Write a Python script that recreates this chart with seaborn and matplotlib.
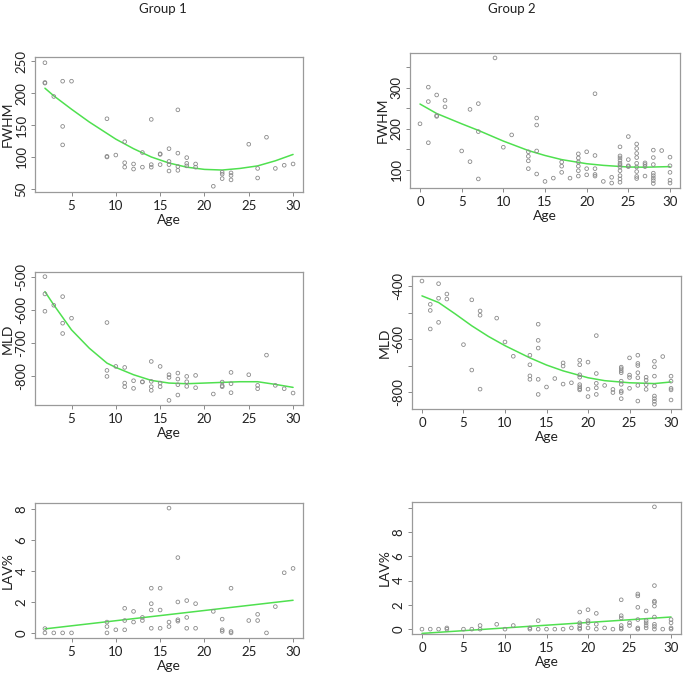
import numpy as np
import pandas as pd
import matplotlib
matplotlib.use("Agg")
import matplotlib.pyplot as plt
import seaborn as sns

# Group 1 - FWHM
g1_fwhm_age = [2, 2, 2, 3, 4, 4, 4, 5, 9, 9, 9, 10, 11, 11, 11, 12, 12, 13, 13,
               14, 14, 14, 15, 15, 15, 16, 16, 16, 16, 17, 17, 17, 17, 18, 18, 18,
               19, 19, 21, 22, 22, 22, 23, 23, 23, 25, 26, 26, 27, 28, 29, 30]
g1_fwhm = [248, 217, 216, 195, 219, 148, 119, 219, 160, 101, 100, 103, 124, 91, 84, 89, 81, 107, 84,
           159, 88, 84, 105, 104, 88, 113, 93, 88, 78, 174, 106, 85, 79, 99, 90, 86,
           89, 84, 54, 76, 73, 66, 75, 71, 64, 120, 82, 67, 131, 82, 87, 89]
g1_fwhm_fit_age = [2, 3, 5, 7, 9, 10, 12, 14, 16, 18, 20, 22, 24, 26, 28, 30]
g1_fwhm_fit = [208, 196, 175, 155, 137, 128, 113, 100, 90.5, 84, 80.5, 79.5, 82, 86, 94, 104]

# Group 2 - FWHM
g2_fwhm_age = [0, 1, 1, 1, 2, 2, 2, 3, 3, 5, 6, 6, 7, 7, 7, 9, 10, 11,
               13, 13, 13, 13, 14, 14, 14, 14, 15, 16, 17, 17, 17, 18,
               19, 19, 19, 19, 19, 19, 20, 20, 20, 21, 21, 21, 21, 21, 22, 23, 23,
               24, 24, 24, 24, 24, 24, 24, 24, 24, 24, 24, 25, 25, 25, 25,
               26, 26, 26, 26, 26, 26, 26, 26, 26, 27, 27, 27, 27,
               28, 28, 28, 28, 28, 28, 28, 28, 29, 30, 30, 30, 30, 30]
g2_fwhm = [212, 301, 266, 166, 282, 232, 230, 269, 253, 146, 247, 120, 261, 193, 78, 372, 155, 185,
           144, 133, 122, 103, 226, 209, 146, 90, 72, 80, 119, 109, 94, 80,
           139, 129, 119, 109, 98, 85, 144, 103, 88, 285, 135, 103, 89, 85, 72, 82, 68,
           156, 134, 129, 123, 116, 112, 107, 98, 86, 78, 70, 181, 125, 110, 108,
           163, 152, 140, 130, 116, 107, 96, 84, 79, 117, 113, 108, 85,
           148, 130, 113, 92, 86, 80, 74, 67, 147, 131, 110, 94, 75, 68]
g2_fwhm_fit_age = [0, 2, 5, 7, 10, 13, 15, 17, 20, 22, 25, 27, 30]
g2_fwhm_fit = [260, 237, 212, 196, 170, 147, 135, 125, 115, 111, 107, 106.5, 108]

# Group 1 - MLD
g1_mld_age = [2, 2, 2, 3, 4, 4, 4, 5, 9, 9, 9, 10, 11, 11, 11, 12, 12, 13, 13,
              14, 14, 14, 14, 15, 15, 15, 16, 16, 16, 17, 17, 17, 17, 18, 18, 18,
              19, 19, 21, 22, 22, 22, 23, 23, 23, 25, 26, 26, 27, 28, 29, 30]
g1_mld = [-500, -552, -604, -586, -560, -640, -671, -625, -638, -782, -800, -770, -773, -820, -831,
          -813, -836, -816, -817, -755, -815, -831, -842, -770, -820, -831, -795, -803, -872,
          -790, -808, -825, -856, -800, -816, -830, -797, -834, -853, -817, -828, -831,
          -788, -822, -849, -795, -827, -837, -736, -827, -837, -850]
g1_mld_fit_age = [2, 3, 5, 7, 9, 10, 12, 14, 16, 18, 20, 22, 24, 26, 28, 30]
g1_mld_fit = [-545, -585, -660, -715, -760, -773, -795, -812, -820, -822, -820, -818, -816, -816, -824, -833]

# Group 2 - MLD
g2_mld_age = [0, 1, 1, 1, 2, 2, 2, 3, 3, 5, 6, 6, 7, 7, 7, 9, 10, 11,
              13, 13, 13, 13, 14, 14, 14, 14, 14, 15, 16, 17, 17, 17, 18,
              19, 19, 19, 19, 19, 19, 19, 19, 20, 20, 20, 21, 21, 21, 21, 21, 22, 23, 23,
              24, 24, 24, 24, 24, 24, 24, 24, 24, 25, 25, 25, 25,
              26, 26, 26, 26, 26, 26, 26, 27, 27, 27, 27,
              28, 28, 28, 28, 28, 28, 28, 28, 29, 30, 30, 30, 30, 30]
g2_mld = [-381, -469, -492, -562, -391, -446, -537, -430, -449, -621, -452, -717, -494, -510, -789,
          -521, -611, -665, -661, -697, -739, -752, -544, -605, -634, -752, -809, -781, -749,
          -690, -702, -770, -765, -680, -697, -735, -744, -772, -780, -787, -792,
          -687, -789, -817, -587, -730, -767, -784, -809, -775, -790, -802,
          -706, -712, -720, -727, -759, -771, -796, -802, -825, -671, -736, -745, -786,
          -661, -692, -700, -727, -746, -775, -834, -744, -755, -772, -790,
          -684, -705, -740, -777, -815, -825, -835, -846, -666, -740, -759, -786, -792, -830]
g2_mld_fit_age = [0, 2, 4, 6, 8, 10, 13, 15, 17, 20, 22, 25, 28, 30]
g2_mld_fit = [-437, -462, -505, -550, -590, -625, -671, -698, -720, -746, -757, -765, -768, -762]

# Group 1 - LAV%
g1_lav_age = [2, 2, 3, 4, 5, 9, 9, 9, 10, 11, 11, 11, 12, 12, 13, 13,
              14, 14, 14, 14, 15, 15, 15, 16, 16, 16, 17, 17, 17, 17, 18, 18, 18,
              19, 19, 21, 22, 22, 22, 23, 23, 23, 25, 26, 26, 27, 28, 29, 30]
g1_lav = [0.28, 0, 0, 0, 0, 0.7, 0.41, 0, 0.2, 1.59, 0.8, 0.2, 1.39, 0.7, 1.0, 0.8,
          2.89, 1.89, 1.48, 0.3, 2.89, 1.48, 0.3, 8.07, 0.7, 0.41, 4.87, 2.0, 0.85, 0.76,
          2.09, 1.0, 0.3, 1.89, 0.3, 1.39, 0.89, 0.2, 0.1, 2.89, 0.09, 0, 0.8, 1.2, 0.8,
          0, 1.7, 3.89, 4.17]
g1_lav_fit_age = [2, 30]
g1_lav_fit = [0.26, 2.11]

# Group 2 - LAV%
g2_lav_age = [0, 1, 2, 3, 3, 5, 6, 7, 7, 9, 10, 11, 13, 13, 14, 14, 15, 16, 17, 18,
              19, 19, 19, 19, 19, 20, 20, 20, 20, 21, 21, 21, 22, 23,
              24, 24, 24, 24, 24, 24, 25, 25, 26, 26, 26, 26, 26, 26,
              27, 27, 27, 27, 27, 28, 28, 28, 28, 28, 28, 28, 28, 28, 29, 30, 30, 30, 30]
g2_lav = [0, 0, 0, 0.1, 0, 0, 0, 0.3, 0, 0.4, 0, 0.3, 0.1, 0, 0.7, 0, 0, 0, 0, 0.1,
          1.41, 0.52, 0.3, 0.1, 0, 1.6, 0.7, 0.52, 0.1, 1.3, 0.4, 0, 0.1, 0,
          2.42, 1.11, 0.92, 0.3, 0.1, 0, 0.52, 0.3, 2.9, 2.74, 1.8, 0.79, 0.1, 0,
          1.5, 0.7, 0.52, 0.3, 0.1, 10.08, 3.59, 2.31, 2.2, 1.9, 1.0, 0.4, 0.22, 0, 0,
          0.79, 0.52, 0.1, 0]
g2_lav_fit_age = [0, 30]
g2_lav_fit = [-0.35, 1.0]

sns.set_theme(style="white")
plt.rcParams["font.family"] = ["Lato", "DejaVu Sans"]
plt.rcParams["axes.unicode_minus"] = False

W, H = 683, 674
fig = plt.figure(figsize=(W / 100, H / 100), dpi=100)


def add_axes(x0, x1, y0, y1):
    return fig.add_axes([x0 / W, 1 - y1 / H, (x1 - x0) / W, (y1 - y0) / H])


panels = [
    # (box px, ages, values, fit ages, fit values, ylabel, xlim, ylim, xticks, yticks, ylabels)
    ((35, 303, 57, 192), g1_fwhm_age, g1_fwhm, g1_fwhm_fit_age, g1_fwhm_fit, "FWHM",
     (0.88, 31.12), (45, 257), [5, 10, 15, 20, 25, 30], [50, 100, 150, 200, 250], None),
    ((410, 680, 53, 188), g2_fwhm_age, g2_fwhm, g2_fwhm_fit_age, g2_fwhm_fit, "FWHM",
     (-1.2, 31.2), (56, 384), [0, 5, 10, 15, 20, 25, 30], [100, 150, 200, 250, 300, 350],
     ["100", "", "200", "", "300", ""]),
    ((35, 303, 272, 405), g1_mld_age, g1_mld, g1_mld_fit_age, g1_mld_fit, "MLD",
     (0.88, 31.12), (-886, -486), [5, 10, 15, 20, 25, 30], [-800, -700, -600, -500], None),
    ((412, 681, 276, 409), g2_mld_age, g2_mld, g2_mld_fit_age, g2_mld_fit, "MLD",
     (-1.2, 31.2), (-864, -362), [0, 5, 10, 15, 20, 25, 30], [-800, -700, -600, -500, -400],
     ["-800", "", "-600", "", "-400"]),
    ((35, 303, 503, 638), g1_lav_age, g1_lav, g1_lav_fit_age, g1_lav_fit, "LAV%",
     (0.88, 31.12), (-0.33, 8.4), [5, 10, 15, 20, 25, 30], [0, 2, 4, 6, 8], None),
    ((412, 681, 502, 634), g2_lav_age, g2_lav, g2_lav_fit_age, g2_lav_fit, "LAV%",
     (-1.2, 31.2), (-0.4, 10.48), [0, 5, 10, 15, 20, 25, 30], [0, 2, 4, 6, 8, 10],
     ["0", "2", "4", "6", "8", ""]),
]

for box, ages, vals, fa, fv, ylab, xlim, ylim, xt, yt, ytl in panels:
    ax = add_axes(*box)
    pts = pd.DataFrame({"Age": ages, "val": vals})
    fit = pd.DataFrame({"Age": fa, "val": fv})
    sns.scatterplot(data=pts, x="Age", y="val", ax=ax, marker="o", s=7,
                    facecolor="none", edgecolor="#8a8a8a", linewidth=0.6, zorder=3)
    sns.lineplot(data=fit, x="Age", y="val", ax=ax, color="#4fe04f", linewidth=1.1, zorder=2)
    ax.set_xlim(*xlim)
    ax.set_ylim(*ylim)
    ax.set_xticks(xt)
    ax.set_yticks(yt)
    if ytl is not None:
        ax.set_yticklabels(ytl)
    for lbl in ax.get_yticklabels():
        lbl.set_rotation(90)
        lbl.set_va("center")
    ax.tick_params(axis="both", which="both", direction="out", length=3, width=0.6,
                   color="#777777", labelsize=9.5, labelcolor="#222222",
                   bottom=True, left=True, pad=2.5)
    ax.set_xlabel("Age", fontsize=10, color="#222222", labelpad=1.5)
    ax.set_ylabel(ylab, fontsize=10, color="#222222", labelpad=1.5)
    for sp in ax.spines.values():
        sp.set_color("#9a9a9a")
        sp.set_linewidth(0.9)

fig.text(163 / W, 1 - 9 / H, "Group 1", ha="center", va="center", fontsize=9.5, color="#222222")
fig.text(512 / W, 1 - 9 / H, "Group 2", ha="center", va="center", fontsize=9.5, color="#222222")

fig.savefig("out.png", dpi=100, facecolor="white")
